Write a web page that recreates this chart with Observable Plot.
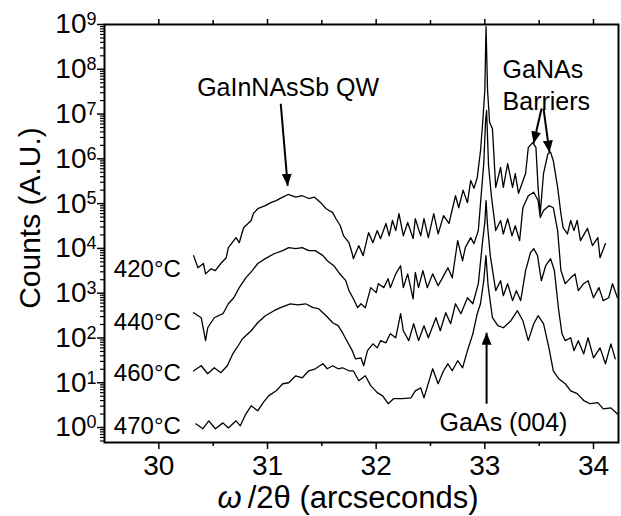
<!DOCTYPE html>
<html><head><meta charset="utf-8">
<script src="https://cdn.jsdelivr.net/npm/d3@7"></script>
<script src="https://cdn.jsdelivr.net/npm/@observablehq/plot@0.6"></script>
<style>html,body{margin:0;padding:0;background:#fff;} svg{display:block}</style>
</head><body><div id="chart"></div>
<script>
// XRD omega/2theta scans, counts (A.U.) vs arcseconds, one series per growth temperature
const scan420 = [[30.32,6900],[30.36,3700],[30.41,4600],[30.43,2700],[30.48,3500],[30.52,3200],[30.57,4600],[30.62,6200],[30.64,10400],[30.71,17400],[30.74,13400],[30.78,29000],[30.85,42000],[30.87,60000],[30.91,77000],[30.98,90000],[31.03,105000],[31.08,117000],[31.14,140000],[31.19,160000],[31.26,140000],[31.32,150000],[31.38,130000],[31.43,140000],[31.49,105000],[31.54,77000],[31.60,63000],[31.63,46000],[31.67,32000],[31.70,19000],[31.75,13400],[31.78,7600],[31.79,5900],[31.84,11500],[31.88,6900],[31.93,22500],[31.97,13400],[32.01,25000],[32.04,16500],[32.09,36000],[32.12,19000],[32.15,42000],[32.18,25000],[32.21,60000],[32.25,19000],[32.29,38000],[32.34,16500],[32.36,46000],[32.41,19000],[32.44,46000],[32.48,17400],[32.53,60000],[32.57,21000],[32.62,54000],[32.67,36000],[32.73,150000],[32.76,81000],[32.80,200000],[32.84,105000],[32.87,330000],[32.90,220000],[32.93,380000],[32.96,1.5e6],[32.98,6.5e6],[33.00,3.4e7],[33.011,9.0e8],[33.025,3.4e7],[33.044,6.5e6],[33.07,4.7e6],[33.10,230000],[33.145,640000],[33.17,230000],[33.21,780000],[33.255,230000],[33.28,470000],[33.31,170000],[33.375,470000],[33.40,1.8e6],[33.44,2.3e6],[33.47,1.8e6],[33.49,230000],[33.51,60000],[33.54,470000],[33.58,1.3e6],[33.605,1.4e6],[33.63,910000],[33.67,230000],[33.70,60000],[33.72,29000],[33.76,21000],[33.79,42000],[33.82,25000],[33.85,42000],[33.88,14900],[33.945,28000],[33.99,11500],[34.04,17400],[34.06,6200],[34.11,12800]];
const scan440 = [[30.32,366],[30.39,283],[30.43,87],[30.45,169],[30.51,283],[30.59,348],[30.64,580],[30.69,790],[30.74,1330],[30.80,2200],[30.86,3200],[30.91,4600],[30.98,5900],[31.06,7600],[31.14,8900],[31.195,10400],[31.26,9900],[31.32,10400],[31.38,8900],[31.44,8900],[31.51,6900],[31.55,5300],[31.61,4100],[31.655,2900],[31.72,1900],[31.75,1140],[31.79,750],[31.83,474],[31.86,580],[31.90,474],[31.95,1330],[32.00,1030],[32.02,1630],[32.07,1330],[32.11,2100],[32.13,1330],[32.18,2700],[32.225,4100],[32.25,1330],[32.29,2700],[32.34,750],[32.36,2900],[32.39,1330],[32.43,3200],[32.47,1330],[32.52,2700],[32.57,1470],[32.61,2200],[32.66,3700],[32.70,2200],[32.75,14900],[32.795,5300],[32.82,10400],[32.87,17400],[32.90,12800],[32.94,25000],[32.97,2e5],[32.99,7.8e5],[33.007,7.2e6],[33.016,1.2e7],[33.034,7.1e5],[33.06,1.5e5],[33.10,25000],[33.145,42000],[33.17,21000],[33.21,46000],[33.25,19000],[33.28,32000],[33.32,14900],[33.35,81000],[33.40,1.5e5],[33.45,1.8e5],[33.49,1.17e5],[33.51,49000],[33.54,70000],[33.59,90000],[33.63,81000],[33.67,25000],[33.70,3200],[33.74,1630],[33.79,2200],[33.83,2700],[33.86,1140],[33.91,1630],[33.95,1900],[34.00,790],[34.05,1330],[34.09,680],[34.14,790],[34.175,1630],[34.22,790]];
const scan460 = [[30.32,18.5],[30.39,24],[30.45,15.9],[30.51,21.6],[30.57,16.7],[30.63,24],[30.68,44],[30.73,67],[30.77,96],[30.85,145],[30.91,219],[30.98,314],[31.06,406],[31.12,474],[31.21,580],[31.28,550],[31.35,580],[31.42,474],[31.47,450],[31.54,314],[31.60,219],[31.65,188],[31.69,131],[31.74,78],[31.78,52],[31.81,34],[31.86,36],[31.885,24],[31.92,52],[31.97,74],[32.01,60],[32.04,87],[32.09,78],[32.13,124],[32.18,101],[32.225,348],[32.25,145],[32.30,87],[32.345,208],[32.39,87],[32.44,188],[32.48,101],[32.55,283],[32.59,145],[32.64,366],[32.685,208],[32.73,580],[32.78,348],[32.84,790],[32.89,580],[32.94,1630],[32.98,14900],[33.00,38000],[33.011,117000],[33.025,32000],[33.05,6900],[33.10,1140],[33.145,1900],[33.17,880],[33.21,1630],[33.255,680],[33.29,1140],[33.33,680],[33.375,3200],[33.42,8000],[33.45,9900],[33.485,6900],[33.52,1900],[33.56,4100],[33.605,5900],[33.64,3200],[33.68,406],[33.71,124],[33.74,87],[33.79,101],[33.82,52],[33.86,87],[33.91,44],[33.95,101],[34.00,36],[34.06,60],[34.11,26.5],[34.16,74],[34.20,34]];
const scan470 = [[30.34,1.21],[30.405,0.94],[30.46,1.41],[30.52,0.94],[30.59,1.27],[30.64,0.98],[30.71,1.41],[30.75,1.09],[30.80,2.0],[30.85,3.05],[30.91,2.36],[30.96,3.6],[31.01,5.1],[31.08,6.6],[31.14,9.5],[31.195,10],[31.26,14.3],[31.32,12.9],[31.38,18.5],[31.44,20.5],[31.51,26.5],[31.55,20.5],[31.60,24],[31.65,20.5],[31.69,21.6],[31.75,18.5],[31.79,18.5],[31.84,11.1],[31.90,14.3],[31.95,8.6],[32.01,6.0],[32.06,5.1],[32.11,3.4],[32.16,4.4],[32.24,4.4],[32.32,4.6],[32.36,6.6],[32.41,7.7],[32.44,4.6],[32.52,20.5],[32.57,9.5],[32.62,18.5],[32.66,26.5],[32.70,18.5],[32.75,31],[32.795,21.6],[32.84,52],[32.89,124],[32.93,348],[32.96,580],[32.99,1900],[33.01,6900],[33.03,1470],[33.07,283],[33.12,188],[33.17,169],[33.24,243],[33.30,406],[33.35,243],[33.40,87],[33.45,208],[33.49,314],[33.54,208],[33.59,60],[33.63,18.5],[33.68,12.3],[33.74,9.5],[33.79,6.6],[33.85,5.7],[33.91,4.0],[33.97,3.4],[34.04,3.6],[34.09,2.6],[34.16,2.75],[34.22,2.0]];

const seriesNames = ["420°C", "440°C", "460°C", "470°C"];
const labelCounts = [3500, 219, 15.9, 1.09];     // y of each temperature label
const labelX = 29.586;

const xMajor = [30, 31, 32, 33, 34];
const xMinor = [30.5, 31.5, 32.5, 33.5];
const yMajor = [1, 10, 100, 1e3, 1e4, 1e5, 1e6, 1e7, 1e8, 1e9];

const notesMiddle = [
  {x: 31.19, y: 3.9e7, text: "GaInNAsSb QW"},
  {x: 33.172, y: 1.27, text: "GaAs (004)"}
];
const notesStart = [
  {x: 33.163, y: 9.4e7, text: "GaNAs"},
  {x: 33.163, y: 1.9e7, text: "Barriers"}
];
const arrows = [
  {x1: 31.122, y1: 1.7e7, x2: 31.186, y2: 2.5e5},
  {x1: 33.522, y1: 1.33e7, x2: 33.448, y2: 2.2e6},
  {x1: 33.540, y1: 1.33e7, x2: 33.595, y2: 1.38e6},
  {x1: 33.016, y1: 3.4, x2: 33.016, y2: 131}
];

const scans = [scan420, scan440, scan460, scan470];
const rows = scans.flatMap((s, i) => s.map(([x, c]) => ({series: seriesNames[i], x, counts: c})));
const tempLabels = seriesNames.map((t, i) => ({x: labelX, y: labelCounts[i], text: t}));
const yMinor = [];
for (let k = -1; k <= 8; k++) for (let m = 2; m <= 9; m++) {
  const v = m * Math.pow(10, k);
  if (v >= 0.47 && v < 1e9) yMinor.push(v);
}

const FONT = "'Liberation Sans', Arial, Helvetica, sans-serif";
const svg = Plot.plot({
  width: 621, height: 516,
  marginLeft: 104, marginRight: 3, marginTop: 24, marginBottom: 74,
  style: {fontFamily: FONT, background: "white", color: "black", overflow: "visible"},
  x: {domain: [29.5, 34.23]},
  y: {type: "log", domain: [0.463, 1e9]},
  marks: [
    Plot.line(rows, {x: "x", y: "counts", z: "series", stroke: "black", strokeWidth: 1.3}),
    Plot.axisX({ticks: xMajor, anchor: "bottom", tickSize: 7, tickPadding: 6, fontSize: 28, strokeWidth: 1.5, tickFormat: d => String(d), label: null}),
    Plot.axisX({ticks: xMinor, anchor: "bottom", tickSize: 4, strokeWidth: 1.5, tickFormat: () => "", label: null}),
    Plot.axisX({ticks: xMajor, anchor: "top", tickSize: 6, strokeWidth: 1.5, tickFormat: () => "", label: null}),
    Plot.axisX({ticks: xMinor, anchor: "top", tickSize: 5, strokeWidth: 1.5, tickFormat: () => "", label: null}),
    Plot.axisY({ticks: yMajor, anchor: "left", tickSize: 7, tickPadding: 1, fontSize: 28, strokeWidth: 1.5, tickFormat: d => "E" + Math.round(Math.log10(d)), label: null}),
    Plot.axisY({ticks: yMinor, anchor: "left", tickSize: 4, strokeWidth: 1.2, tickFormat: () => "", label: null}),
    Plot.frame({stroke: "black", strokeWidth: 2}),
    Plot.text(tempLabels, {x: "x", y: "y", text: "text", textAnchor: "start", fontSize: 24, fill: "black"}),
    Plot.text(notesMiddle, {x: "x", y: "y", text: "text", textAnchor: "middle", fontSize: 25, fill: "black"}),
    Plot.text(notesStart, {x: "x", y: "y", text: "text", textAnchor: "start", fontSize: 25, fill: "black"}),
    Plot.link(arrows, {x1: "x1", y1: "y1", x2: "x2", y2: "y2", stroke: "black", strokeWidth: 2})
  ]
});
document.getElementById("chart").appendChild(svg);

const s = d3.select(svg);
// superscript exponents on y tick labels
s.selectAll("text").each(function() {
  const t = this.textContent;
  if (/^E\d$/.test(t)) {
    const sel = d3.select(this);
    sel.text("10");
    sel.append("tspan").attr("dy", "-0.45em").attr("font-size", "18px").text(t.slice(1));
  }
});
// filled arrowheads
const defs = s.insert("defs", ":first-child");
defs.append("marker").attr("id", "ah").attr("viewBox", "0 0 12 10")
  .attr("refX", 12).attr("refY", 5).attr("markerWidth", 12).attr("markerHeight", 10)
  .attr("markerUnits", "userSpaceOnUse").attr("orient", "auto")
  .append("path").attr("d", "M0,0L12,5L0,10Z").attr("fill", "black");
s.selectAll('g[aria-label="link"] path, g[aria-label="link"] line').attr("marker-end", "url(#ah)");
// axis titles
s.append("text").attr("transform", "translate(40,218) rotate(-90)")
  .attr("text-anchor", "middle").attr("font-size", 30).attr("fill", "black")
  .attr("font-family", FONT).text("Counts (A.U.)");
const xl = s.append("text").attr("x", 348).attr("y", 508).attr("text-anchor", "middle")
  .attr("font-size", 31).attr("fill", "black").attr("font-family", FONT);
xl.append("tspan").attr("font-style", "italic").text("ω");
xl.append("tspan").text("\u2009/2θ (arcseconds)");
</script>
</body></html>
